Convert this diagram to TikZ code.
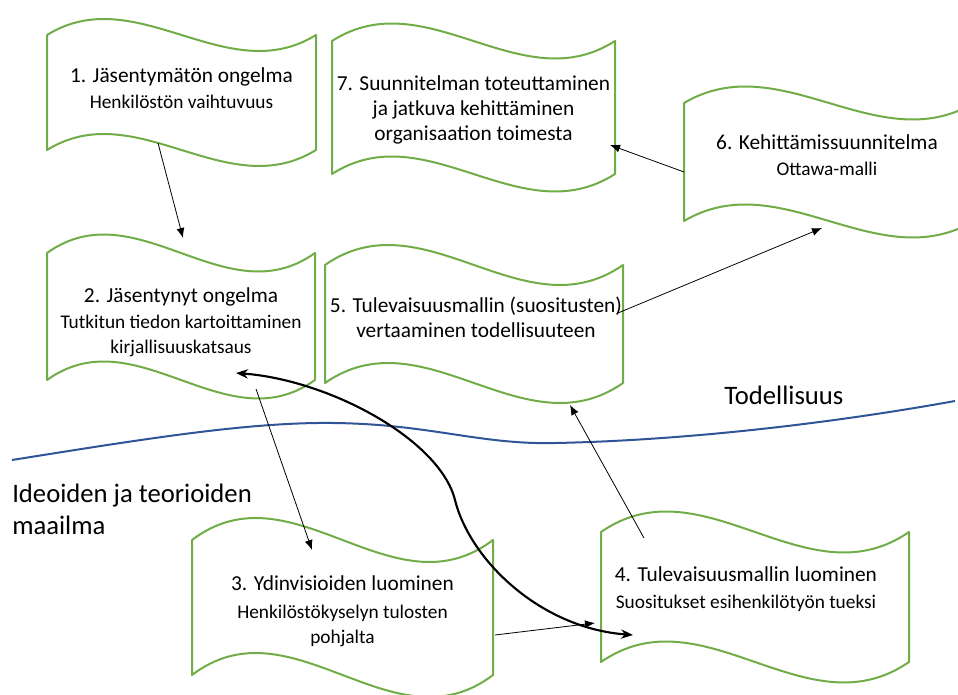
\documentclass[tikz,border=0pt]{standalone}
\usepackage{fontspec}
\setmainfont{Carlito}
\usetikzlibrary{arrows.meta,calc}
\definecolor{boxgreen}{HTML}{70AD47}
\definecolor{realblue}{HTML}{2F5597}
\newcommand{\subtxt}{\fontsize{14.5}{16.5}\selectfont}
\begin{document}
\begin{tikzpicture}[x=0.75pt,y=-0.75pt,
  wavebox/.style={draw=boxgreen, line width=1.5pt, fill=white, line join=round},
  boxfit/.style={inner sep=0pt, outer sep=0pt},
  boxtext/.style={align=center, inner sep=0pt, font=\fontsize{16}{18.75}\selectfont},
  biglabel/.style={inner sep=0pt, font=\fontsize{20}{24}\selectfont},
  conn/.style={-{Latex[length=7.5pt,width=6pt]}, line width=0.6pt},
  bigconn/.style={{Stealth[length=9pt,width=7pt]}-{Stealth[length=9pt,width=7pt]}, line width=1.6pt},
  realline/.style={draw=realblue, line width=1.5pt}]
\useasboundingbox (0,0) rectangle (958,695);
\clip (0,0) rectangle (958,695);
%\draw[black!10!white] (0,0) grid[step=50] (958,695);

% wave boxes: name / left / right / top / bottom / wave height
\foreach \n/\xa/\xb/\ya/\yb/\am in {1/47/316/35/150/16, 2/47/315/253/380/18.5, 3/192/493/540/675/22,
  4/601/909/532/662/20.5, 5/325/623/265/383/20, 6/684/974/103/221/16.5, 7/332/615/41/174/17.5}{
\draw[wavebox] (\xa,\ya) .. controls ({\xa+(\xb-\xa)/3},{\ya-3.46*\am}) and ({\xa+2*(\xb-\xa)/3},{\ya+3.46*\am}) .. (\xb,\ya)
  -- (\xb,\yb) .. controls ({\xa+2*(\xb-\xa)/3},{\yb+3.46*\am}) and ({\xa+(\xb-\xa)/3},{\yb-3.46*\am}) .. (\xa,\yb) -- cycle;
\node[boxfit, minimum width={(\xb-\xa)*0.75pt}, minimum height={(\yb-\ya)*0.75pt}] (k\n) at ({(\xa+\xb)/2},{(\ya+\yb)/2}) {};
}

\node[boxtext] (t1) at ($(k1)+(0,-4)$) {1. Jäsentymätön ongelma\\[1pt] \subtxt Henkilöstön vaihtuvuus};
\node[boxtext] (t2) at ($(k2)+(0,6)$) {2. Jäsentynyt ongelma\\[1pt] \subtxt Tutkitun tiedon kartoittaminen\\ \subtxt kirjallisuuskatsaus};
\node[boxtext] (t3) at ($(k3)+(0,4)$) {3. Ydinvisioiden luominen\\[2pt] \subtxt Henkilöstökyselyn tulosten\\ \subtxt pohjalta};
\node[boxtext] (t4) at ($(k4)+(-9,-8)$) {4. Tulevaisuusmallin luominen\\[1pt] \subtxt Suositukset esihenkilötyön tueksi};
\node[boxtext] (t5) at ($(k5)+(2,-7)$) {5. Tulevaisuusmallin (suositusten)\\ vertaaminen todellisuuteen};
\node[boxtext] (t6) at ($(k6)+(-2,-7)$) {6. Kehittämissuunnitelma\\[1pt] \subtxt Ottawa-malli};
\node[boxtext] (t7) at ($(k7)+(0,2)$) {7. Suunnitelman toteuttaminen\\ ja jatkuva kehittäminen\\ organisaation toimesta};

% raja
\draw[realline] (12,460) .. controls (150,438) and (250,422) .. (333,423) .. controls (430,424) and (480,445) .. (556,443)
  .. controls (700,440) and (850,420) .. (955,401);
\node[biglabel, anchor=base west] (todell) at (724,405) {Todellisuus};
\node[biglabel, anchor=north west, align=left] (ideat) at (12,484) {Ideoiden ja teorioiden\\ maailma};

\draw[conn] ($(k1.south)+(-23.5,-7)$) -- ($(k2.north)+(2,-15)$);
\draw[conn] ($(k2.south)+(75,9)$) -- ($(k3.north)+(-30.5,10)$);
\draw[conn] ($(k3.east)+(2,27.5)$) -- ($(k4.west)+(-6,26)$);
\draw[conn] ($(k4.north)+(-111,6)$) -- ($(k5.south)+(96,22)$);
\draw[conn] ($(k5.east)+(-5,-11)$) -- ($(k6.south)+(-7,7)$);
\draw[conn] ($(k6.west)+(0,10)$) -- ($(k7.east)+(-5,37.5)$);

\draw[bigconn] ($(k2.south)+(55,-7)$) .. controls (330,380) and (440,440) .. (455,500)
  .. controls (470,560) and (540,628) .. ($(k4.west)+(32,38)$);
\end{tikzpicture}
\end{document}
